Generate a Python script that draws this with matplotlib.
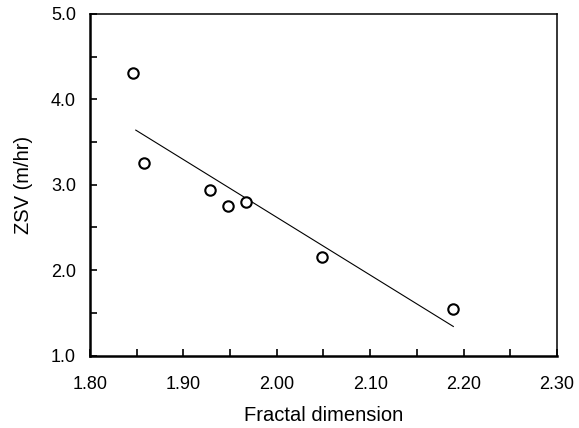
import matplotlib
matplotlib.use("Agg")
import matplotlib.pyplot as plt
from matplotlib.ticker import MultipleLocator, FormatStrFormatter

# Data
fractal_dim = [1.846, 1.858, 1.928, 1.948, 1.967, 2.048, 2.189]
zsv = [4.31, 3.26, 2.94, 2.75, 2.80, 2.15, 1.55]

# Regression line endpoints
fit_x = [1.849, 2.189]
fit_y = [3.64, 1.34]

x_ticks = [1.80, 1.90, 2.00, 2.10, 2.20, 2.30]
y_ticks = [1.0, 2.0, 3.0, 4.0, 5.0]

plt.rcParams['font.family'] = ['Liberation Sans', 'DejaVu Sans']

fig = plt.figure(figsize=(5.79, 4.28), dpi=100)
ax = fig.add_axes([90/579, 1-355.5/428, (557-90)/579, (355.5-14)/428])

ax.plot(fit_x, fit_y, color='black', linewidth=0.8)
ax.plot(fractal_dim, zsv, linestyle='none', marker='o', markersize=7.5,
        markerfacecolor='white', markeredgecolor='black', markeredgewidth=1.5)

ax.set_xlim(1.80, 2.30)
ax.set_ylim(1.0, 5.0)
ax.set_xticks(x_ticks)
ax.set_yticks(y_ticks)
ax.xaxis.set_minor_locator(MultipleLocator(0.05))
ax.yaxis.set_minor_locator(MultipleLocator(0.5))
ax.xaxis.set_major_formatter(FormatStrFormatter('%.2f'))
ax.yaxis.set_major_formatter(FormatStrFormatter('%.1f'))

ax.tick_params(axis='both', which='both', direction='in', length=5, width=1.2,
               top=False, right=False)
ax.tick_params(axis='x', which='major', pad=15, labelsize=13)
ax.tick_params(axis='y', which='major', pad=10, labelsize=13)

for side in ['left', 'bottom']:
    ax.spines[side].set_linewidth(1.8)
for side in ['top', 'right']:
    ax.spines[side].set_linewidth(1.1)

ax.set_xlabel('Fractal dimension', fontsize=14.5, labelpad=9)
ax.set_ylabel('ZSV (m/hr)', fontsize=14.5, labelpad=13)

fig.savefig('out.png', dpi=100)
